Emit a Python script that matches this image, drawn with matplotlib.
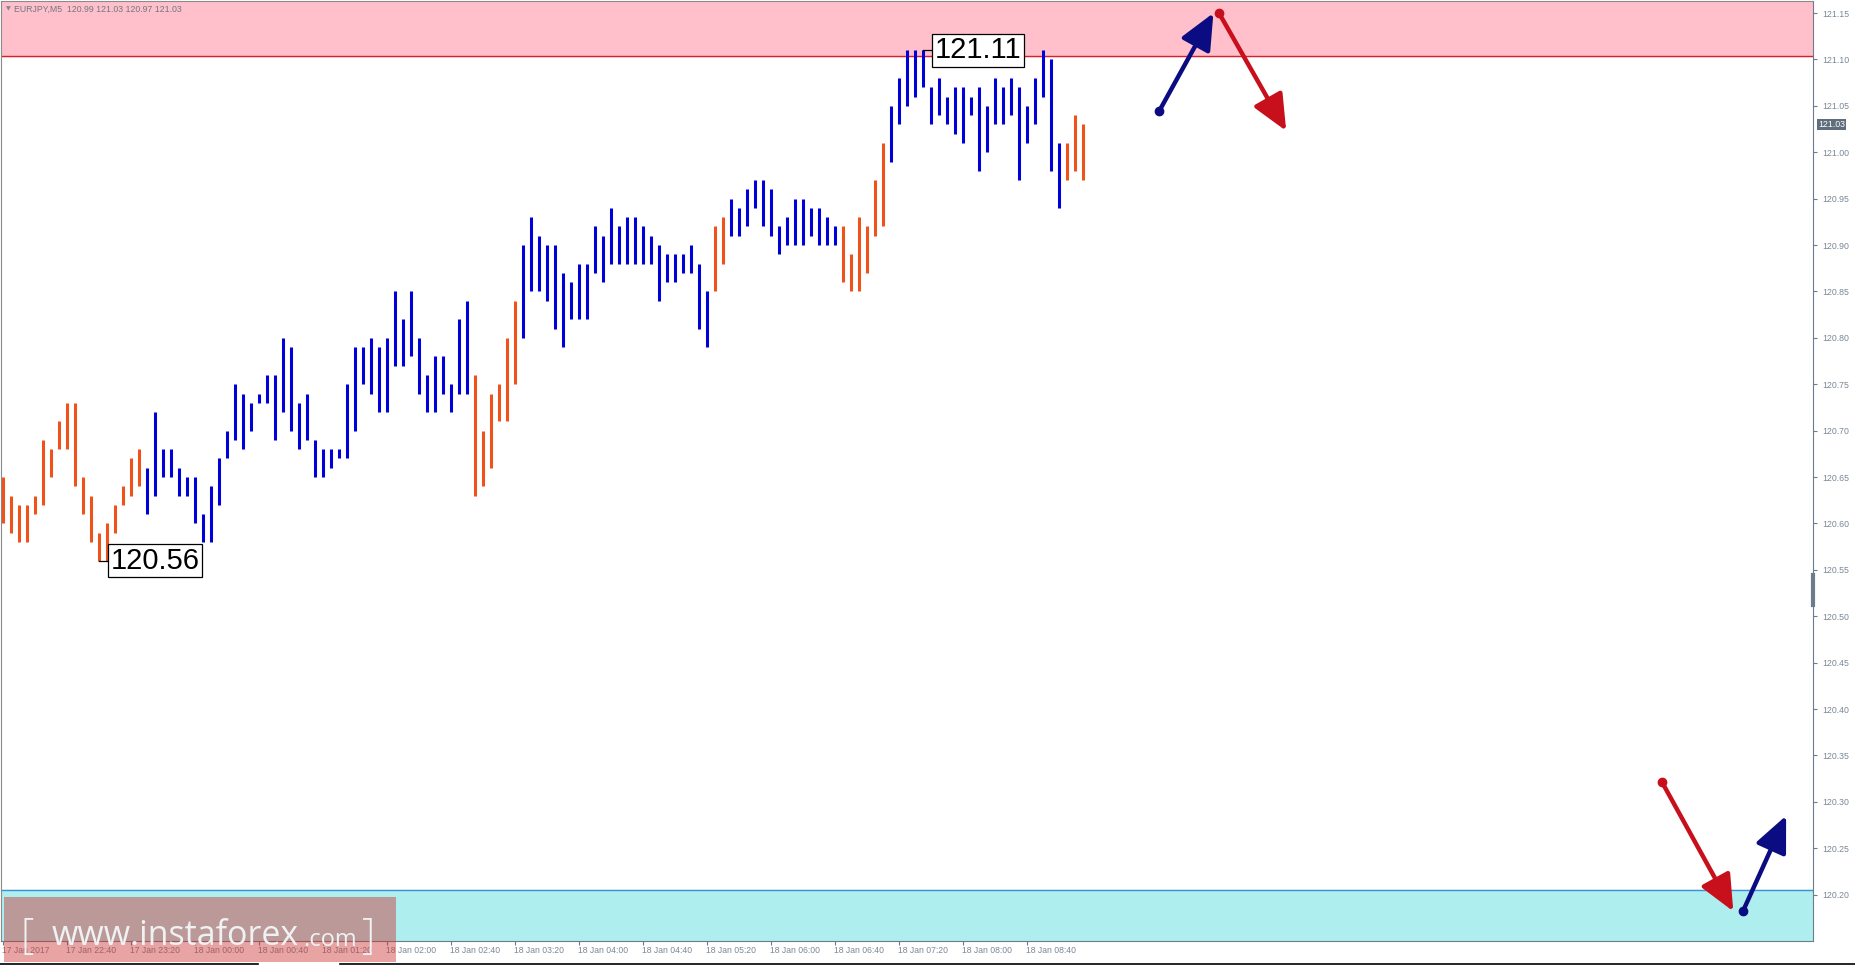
import numpy as np
import matplotlib.pyplot as plt
import matplotlib.lines as mlines

# EURJPY M5 high/low per bar
highs = [120.65, 120.63, 120.62, 120.62, 120.63, 120.69, 120.68, 120.71, 120.73, 120.73,
         120.65, 120.63, 120.59, 120.60, 120.62, 120.64, 120.67, 120.68, 120.66, 120.72,
         120.68, 120.68, 120.66, 120.65, 120.65, 120.61, 120.64, 120.67, 120.70, 120.75,
         120.74, 120.73, 120.74, 120.76, 120.76, 120.80, 120.79, 120.73, 120.74, 120.69,
         120.68, 120.68, 120.68, 120.75, 120.79, 120.79, 120.80, 120.79, 120.80, 120.85,
         120.82, 120.85, 120.80, 120.76, 120.78, 120.78, 120.75, 120.82, 120.84, 120.76,
         120.70, 120.74, 120.75, 120.80, 120.84, 120.90, 120.93, 120.91, 120.90, 120.90,
         120.87, 120.86, 120.88, 120.88, 120.92, 120.91, 120.94, 120.92, 120.93, 120.93,
         120.92, 120.91, 120.90, 120.89, 120.89, 120.89, 120.90, 120.88, 120.85, 120.92,
         120.93, 120.95, 120.94, 120.96, 120.97, 120.97, 120.96, 120.92, 120.93, 120.95,
         120.95, 120.94, 120.94, 120.93, 120.92, 120.92, 120.89, 120.93, 120.92, 120.97,
         121.01, 121.05, 121.08, 121.11, 121.11, 121.11, 121.07, 121.08, 121.06, 121.07,
         121.07, 121.06, 121.07, 121.05, 121.08, 121.07, 121.08, 121.07, 121.05, 121.08,
         121.11, 121.10, 121.01, 121.01, 121.04, 121.03]
lows = [120.60, 120.59, 120.58, 120.58, 120.61, 120.62, 120.65, 120.68, 120.68, 120.64,
        120.61, 120.58, 120.56, 120.56, 120.59, 120.62, 120.63, 120.64, 120.61, 120.63,
        120.65, 120.65, 120.63, 120.63, 120.60, 120.58, 120.58, 120.62, 120.67, 120.69,
        120.68, 120.70, 120.73, 120.73, 120.69, 120.72, 120.70, 120.68, 120.69, 120.65,
        120.65, 120.66, 120.67, 120.67, 120.70, 120.75, 120.74, 120.72, 120.72, 120.77,
        120.77, 120.78, 120.74, 120.72, 120.72, 120.74, 120.72, 120.74, 120.74, 120.63,
        120.64, 120.66, 120.71, 120.71, 120.75, 120.80, 120.85, 120.85, 120.84, 120.81,
        120.79, 120.82, 120.82, 120.82, 120.87, 120.86, 120.88, 120.88, 120.88, 120.88,
        120.88, 120.88, 120.84, 120.86, 120.86, 120.87, 120.87, 120.81, 120.79, 120.85,
        120.88, 120.91, 120.91, 120.92, 120.94, 120.92, 120.91, 120.89, 120.90, 120.90,
        120.90, 120.91, 120.90, 120.90, 120.90, 120.86, 120.85, 120.85, 120.87, 120.91,
        120.92, 120.99, 121.03, 121.05, 121.06, 121.07, 121.03, 121.04, 121.03, 121.02,
        121.01, 121.04, 120.98, 121.00, 121.03, 121.03, 121.04, 120.97, 121.01, 121.03,
        121.06, 120.98, 120.94, 120.97, 120.98, 120.97]
# wave colouring: start index of each run and its colour
runs = [(0, 'o'), (18, 'b'), (59, 'o'), (65, 'b'), (89, 'o'), (91, 'b'), (105, 'o'), (111, 'b'), (133, 'o')]
time_labels = ['17 Jan 2017', '17 Jan 22:40', '17 Jan 23:20', '18 Jan 00:00', '18 Jan 00:40',
               '18 Jan 01:20', '18 Jan 02:00', '18 Jan 02:40', '18 Jan 03:20', '18 Jan 04:00',
               '18 Jan 04:40', '18 Jan 05:20', '18 Jan 06:00', '18 Jan 06:40', '18 Jan 07:20',
               '18 Jan 08:00', '18 Jan 08:40']
price_ticks = np.round(np.arange(120.20, 121.151, 0.05), 2)
resist = 121.104
support = 120.205
low_mark = (12, 120.56)
high_mark = (115, 121.11)
# forecast arrows (bar index, price)
arrows = [((144.5, 121.044), (151.3, 121.150), '#0c0c82'),
          ((152.0, 121.150), (160.4, 121.023), '#c8101c'),
          ((207.4, 120.321), (216.3, 120.182), '#c8101c'),
          ((217.5, 120.182), (222.9, 120.285), '#0c0c82')]

ORANGE = '#f0521c'
BLUE = '#0000d8'
GREY = '#7b8795'

n = len(highs)
x = np.arange(n)
cols = []
for i in range(n):
    c = 'o'
    for s, cc in runs:
        if i >= s:
            c = cc
    cols.append(ORANGE if c == 'o' else BLUE)

W, H = 1855, 967
fig = plt.figure(figsize=(W / 100, H / 100), dpi=100)
ax = fig.add_axes([0.5 / W, 26 / H, 1812 / W, 940 / H])
ymin, ymax = 120.150, 121.163
ax.set_xlim(-0.34, 226.2)
ax.set_ylim(ymin, ymax)

ax.axhspan(resist, ymax, color='#ffc0cb', zorder=0)
ax.axhline(resist, color='#d8202a', lw=1.0, zorder=1)
ax.axhspan(ymin, support, color='#afeeee', zorder=0)
ax.axhline(support, color='#3d8fd6', lw=1.0, zorder=1)

ax.vlines(x, lows, highs, colors=cols, linewidth=2.2, zorder=3)

# extreme labels
for (k, p) in [low_mark, high_mark]:
    ax.plot([k, k + 1.4], [p, p], color='black', lw=0.9, zorder=4)
    ax.text(k + 1.45, p, f'{p:.2f}', fontsize=21, family='Liberation Sans', ha='left', va='center',
            zorder=5, bbox=dict(boxstyle='square,pad=0.08', fc='white', ec='black', lw=0.9))

for (x0, y0), (x1, y1), c in arrows:
    ax.annotate('', xy=(x1, y1), xytext=(x0, y0),
                arrowprops=dict(arrowstyle='-|>,head_length=1.0,head_width=0.45', color=c, lw=3.2,
                                mutation_scale=22, shrinkA=0, shrinkB=0), zorder=6)
    ax.plot([x0], [y0], 'o', color=c, ms=6, zorder=7)

# axes styling
for s in ['left', 'top']:
    ax.spines[s].set_color('#8a8a8a')
for s in ['right', 'bottom']:
    ax.spines[s].set_color('#6d7c8a')
ax.yaxis.tick_right()
ax.set_yticks(price_ticks)
ax.set_yticklabels([f'{v:.2f}' for v in price_ticks])
ax.tick_params(axis='y', direction='out', length=3, width=0.8, colors='#6d7c8a', labelcolor=GREY,
               labelsize=6.3, pad=4)
ax.set_xticks(np.arange(len(time_labels)) * 8)
ax.set_xticklabels([])
ax.tick_params(axis='x', direction='out', length=3, width=0.8, colors='#6d7c8a')
for lab in ax.get_yticklabels():
    lab.set_family('Liberation Sans')
for i, t in enumerate(time_labels):
    ax.annotate(t, xy=(i * 8, 0), xycoords=('data', 'axes fraction'), xytext=(-1, -7),
                textcoords='offset points', ha='left', va='center', fontsize=6.2,
                family='Liberation Sans', color=GREY, annotation_clip=False)

# current price tag
ax.annotate('121.03', xy=(1, 121.03), xycoords=('axes fraction', 'data'), xytext=(4, 0),
            textcoords='offset points', ha='left', va='center', fontsize=6.3, family='Liberation Sans',
            color='white', annotation_clip=False,
            bbox=dict(boxstyle='square,pad=0.15', fc='#5f6d7c', ec='none'))

# header
fig.text(6 / W, 1 - 9 / H, '\u25bc', fontsize=4.5, color='#808890', va='center')
fig.text(14 / W, 1 - 9 / H, 'EURJPY,M5  120.99 121.03 120.97 121.03', fontsize=6.3,
         family='Liberation Sans', color='#707880', va='center')

# shift marker on right spine
fig.add_artist(mlines.Line2D([1813 / W, 1813 / W], [1 - 575 / H, 1 - 605 / H], color='#6d7c8a', lw=3))

# watermark
fig.patches.append(plt.Rectangle((4 / W, 5 / H), 392 / W, 65 / H, transform=fig.transFigure,
                                 fc=(0.8, 0.2, 0.2), alpha=0.45, ec='none', zorder=10))
fig.text(21 / W, 30 / H, '[', fontsize=30, family='Open Sans', color='#eef2f2', va='center', zorder=11,
         fontweight='light')
fig.text(52 / W, 31 / H, 'www.instaforex', fontsize=24.5, family='Open Sans', color='#eef2f2',
         va='center', zorder=11)
fig.text(303 / W, 27 / H, '.com', fontsize=17, family='Open Sans', color='#eef2f2', va='center',
         zorder=11)
fig.text(362 / W, 30 / H, ']', fontsize=30, family='Open Sans', color='#eef2f2', va='center', zorder=11,
         fontweight='light')

# bottom tab lines
fig.add_artist(mlines.Line2D([0, 258 / W], [3 / H, 3 / H], color='black', lw=1.2))
fig.add_artist(mlines.Line2D([340 / W, 1], [3 / H, 3 / H], color='black', lw=1.2))

fig.savefig('out.png', dpi=100)
